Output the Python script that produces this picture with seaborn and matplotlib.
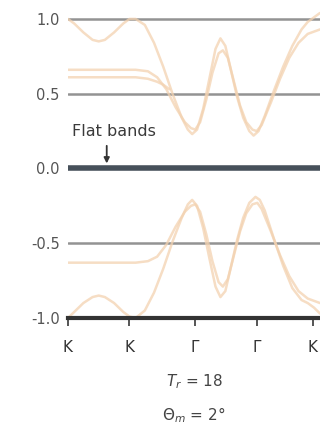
import matplotlib
matplotlib.use("Agg")
import matplotlib.pyplot as plt
import seaborn as sns
import pandas as pd

# ---- data ----
tick_pos = [0, 1.0, 2.07, 3.07, 3.98]
tick_labels = ["K", "K", "Γ", "Γ", "K"]
y_ticks = [-1.0, -0.5, 0.0, 0.5, 1.0]
y_tick_labels = ["-1.0", "-0.5", "0.0", "0.5", "1.0"]

upper1_x = [0, 0.1, 0.25, 0.4, 0.5, 0.6, 0.75, 0.9, 1.0, 1.1, 1.25, 1.4, 1.55, 1.7, 1.85, 1.95, 2.02, 2.1,
            2.2, 2.3, 2.4, 2.48, 2.56, 2.65, 2.75, 2.85, 2.95, 3.02, 3.1, 3.2, 3.35, 3.5, 3.65, 3.8, 3.9, 4.0, 4.1]
upper1_y = [1.0, 0.97, 0.91, 0.86, 0.85, 0.86, 0.91, 0.97, 1.0, 1.0, 0.96, 0.84, 0.68, 0.50, 0.34, 0.26, 0.23, 0.26,
            0.40, 0.60, 0.80, 0.87, 0.82, 0.66, 0.48, 0.34, 0.25, 0.22, 0.25, 0.35, 0.52, 0.68, 0.82, 0.93, 0.98, 1.01, 1.04]

upper2_x = [0, 0.4, 0.8, 1.1, 1.3, 1.45, 1.6, 1.75, 1.9, 2.0, 2.07, 2.15, 2.25, 2.35, 2.45, 2.52, 2.6, 2.7,
            2.8, 2.9, 3.0, 3.07, 3.15, 3.3, 3.45, 3.6, 3.75, 3.9, 4.1]
upper2_y = [0.66, 0.66, 0.66, 0.66, 0.65, 0.61, 0.53, 0.41, 0.31, 0.27, 0.26, 0.31, 0.46, 0.64, 0.77, 0.79, 0.74, 0.58,
            0.42, 0.31, 0.26, 0.25, 0.29, 0.44, 0.60, 0.74, 0.84, 0.90, 0.93]

upper3_x = [0, 0.4, 0.8, 1.1, 1.3, 1.45, 1.55, 1.65]
upper3_y = [0.61, 0.61, 0.61, 0.61, 0.60, 0.58, 0.56, 0.53]

lower1_x = [0, 0.1, 0.25, 0.4, 0.5, 0.6, 0.75, 0.9, 1.0, 1.1, 1.25, 1.4, 1.55, 1.7, 1.85, 1.95, 2.02, 2.1,
            2.2, 2.3, 2.4, 2.48, 2.56, 2.65, 2.75, 2.85, 2.95, 3.05, 3.12, 3.2, 3.35, 3.5, 3.65, 3.8, 3.9, 4.0, 4.1]
lower1_y = [-1.0, -0.96, -0.90, -0.86, -0.85, -0.86, -0.90, -0.96, -0.99, -1.0, -0.95, -0.83, -0.67, -0.49, -0.33, -0.24, -0.21, -0.25,
            -0.40, -0.60, -0.79, -0.86, -0.82, -0.66, -0.48, -0.33, -0.23, -0.19, -0.21, -0.28, -0.47, -0.65, -0.80, -0.88, -0.90, -0.93, -0.97]

lower2_x = [0, 0.4, 0.8, 1.1, 1.3, 1.45, 1.6, 1.75, 1.9, 2.0, 2.07, 2.15, 2.25, 2.35, 2.45, 2.52, 2.6, 2.7,
            2.8, 2.9, 3.0, 3.08, 3.15, 3.3, 3.45, 3.6, 3.75, 3.9, 4.1]
lower2_y = [-0.63, -0.63, -0.63, -0.63, -0.62, -0.59, -0.51, -0.39, -0.29, -0.25, -0.24, -0.29, -0.44, -0.62, -0.76, -0.79, -0.74, -0.58,
            -0.42, -0.30, -0.24, -0.23, -0.27, -0.42, -0.58, -0.72, -0.82, -0.87, -0.90]

flat_x = [0, 4.1]
flat_y = [0.0, 0.0]

frames = []
for name, xs, ys in [("u1", upper1_x, upper1_y), ("u2", upper2_x, upper2_y), ("u3", upper3_x, upper3_y),
                     ("l1", lower1_x, lower1_y), ("l2", lower2_x, lower2_y)]:
    frames.append(pd.DataFrame({"k": xs, "E": ys, "band": name}))
bands = pd.concat(frames, ignore_index=True)

sns.set_style("white")
fig = plt.figure(figsize=(3.2, 4.34), dpi=100)
ax = fig.add_axes([0.2125, 0.2673, 0.7875, 0.7097])

band_color = "#f3d2b0"
sns.lineplot(data=bands, x="k", y="E", units="band", estimator=None, sort=False,
             color=band_color, lw=1.8, alpha=0.75, ax=ax, legend=False)

for yv in [1.0, 0.5, -0.5]:
    ax.axhline(yv, color="#939393", lw=1.8, zorder=1)

sns.lineplot(x=flat_x, y=flat_y, color="#46505a", lw=4, ax=ax, zorder=5)

ax.annotate("", xy=(0.63, 0.015), xytext=(0.63, 0.17),
            arrowprops=dict(arrowstyle="-|>", color="#333333", lw=1.3, mutation_scale=8), zorder=6)
ax.text(0.07, 0.245, "Flat bands", fontsize=11.5, color="#3a3a3a", ha="left", va="center")

ax.set_xlim(0, 4.1)
ax.set_ylim(-1.0, 1.06)
ax.set_yticks(y_ticks)
ax.set_yticklabels(y_tick_labels, fontsize=10.5, color="#555555")
ax.set_xticks(tick_pos)
ax.set_xticklabels(tick_labels, fontsize=11, color="#333333")
ax.tick_params(axis="y", length=0, pad=6)
ax.tick_params(axis="x", length=6, width=1.4, color="#555555", direction="out", pad=10, bottom=True)

for s in ["top", "right", "left"]:
    ax.spines[s].set_visible(False)
ax.spines["bottom"].set_linewidth(3)
ax.spines["bottom"].set_color("#333333")

ax.set_xlabel("$T_r$ = 18\n$\\Theta_m$ = 2°", fontsize=11, color="#444444", labelpad=12, linespacing=2.0)
ax.set_ylabel("")

fig.savefig("out.png", dpi=100)
